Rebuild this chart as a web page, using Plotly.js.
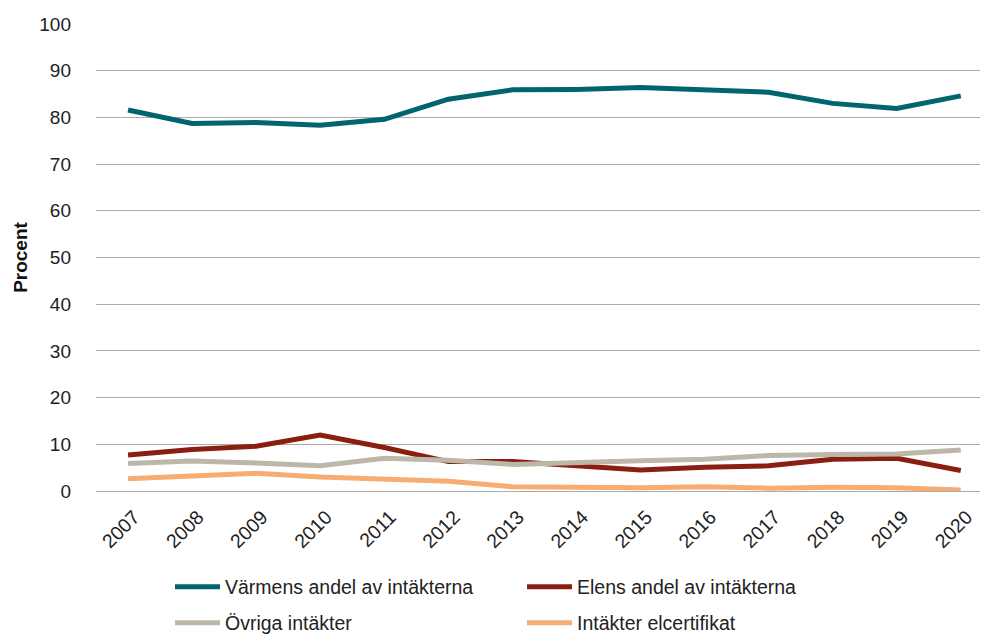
<!DOCTYPE html>
<html><head><meta charset="utf-8">
<script src="https://cdn.plot.ly/plotly-3.0.1.min.js"></script>
<style>body{margin:0;background:#fff}#c{width:981px;height:635px}</style>
</head><body><div id="c"></div>
<script>
const years = ["2007","2008","2009","2010","2011","2012","2013","2014","2015","2016","2017","2018","2019","2020"];
const varme = [81.6,78.7,78.9,78.3,79.6,83.9,85.9,86.0,86.4,86.0,85.4,83.0,81.9,84.6];
const elen = [7.7,8.9,9.6,12.0,9.3,6.3,6.3,5.4,4.5,5.1,5.4,6.8,7.0,4.4];
const ovriga = [5.9,6.4,6.0,5.4,7.0,6.6,5.7,6.2,6.5,6.8,7.6,7.8,7.9,8.8];
const elcert = [2.6,3.2,3.8,3.0,2.6,2.1,0.9,0.8,0.7,0.9,0.6,0.8,0.7,0.2];
const names = ["Värmens andel av intäkterna","Elens andel av intäkterna","Övriga intäkter","Intäkter elcertifikat"];
const colors = ["#00656F","#8A1F11","#BDB7AA","#F7AC73"];
const series = [varme, elen, ovriga, elcert];
const legends = ["legend","legend","legend2","legend2"];
const traces = series.map((s,i)=>({
  x: years, y: s, name: names[i], type:"scatter", mode:"lines",
  line:{color:colors[i], width:5}, legend: legends[i]
}));
const font = {family:"Liberation Sans, Arial, sans-serif", size:19, color:"#222"};
const legBase = {orientation:"h", xanchor:"left", yanchor:"middle", x:0.0837, yref:"container",
  entrywidth:292, entrywidthmode:"pixels", font:{family:font.family,size:19.5,color:"#222"},
  bgcolor:"rgba(0,0,0,0)", itemwidth:45};
const layout = {
  width:981, height:635, margin:{l:96, r:1, t:24, b:144, autoexpand:false},
  paper_bgcolor:"#fff", plot_bgcolor:"#fff", font: font, showlegend:true,
  xaxis:{type:"category", range:[-0.5,13.3], tickangle:-45, showgrid:false, zeroline:false,
    ticks:"", tickfont:{size:19.5, color:"#222"}, showline:false, automargin:false,
    ticklabelstandoff:10, ticklabelshift:6},
  yaxis:{range:[0,100], dtick:10, tick0:0, showgrid:true, gridcolor:"#ababab", gridwidth:1,
    zeroline:true, zerolinecolor:"#ababab", zerolinewidth:1, ticks:"", tickfont:{size:19,color:"#222"},
    ticklabelstandoff:24,
    title:{text:"<b>Procent</b>", font:{size:19, color:"#111"}, standoff:6}, fixedrange:true, automargin:false},
  legend: Object.assign({}, legBase, {y:0.0756}),
  legend2: Object.assign({}, legBase, {y:0.0189})
};
Plotly.newPlot("c", traces, layout, {displayModeBar:false, staticPlot:true});
</script></body></html>
